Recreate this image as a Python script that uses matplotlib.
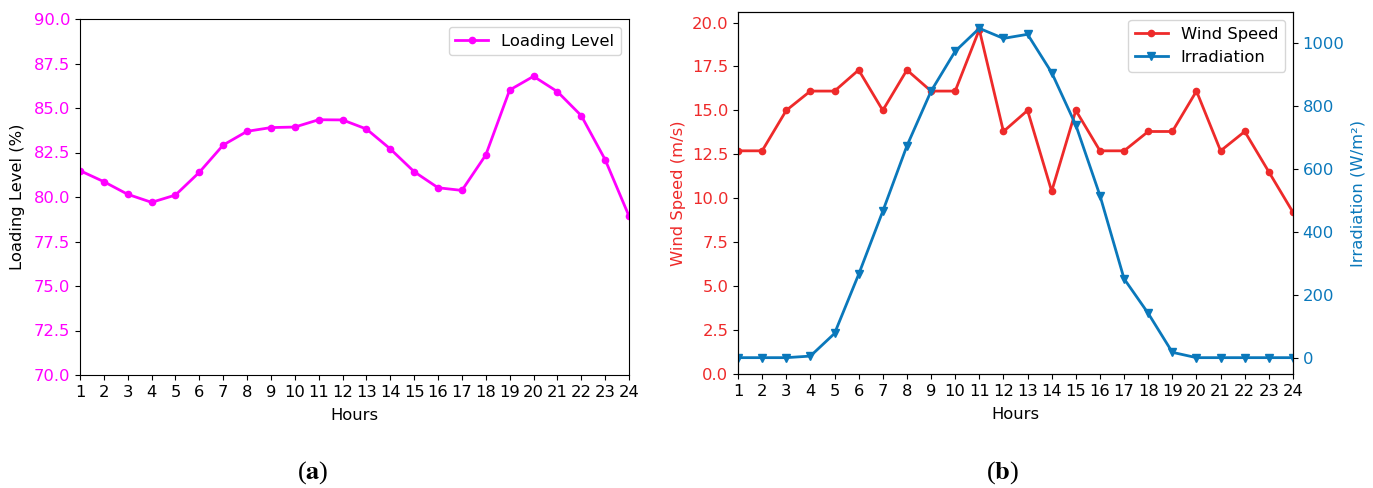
import matplotlib
matplotlib.use("Agg")
import matplotlib.pyplot as plt

hours = list(range(1, 25))
loading_level = [81.48, 80.86, 80.15, 79.70, 80.11, 81.39, 82.92, 83.69, 83.90, 83.93,
                 84.34, 84.33, 83.82, 82.70, 81.42, 80.52, 80.37, 82.36, 86.01, 86.78,
                 85.92, 84.57, 82.10, 78.93]
wind_speed = [12.7, 12.7, 15.0, 16.1, 16.1, 17.3, 15.0, 17.3, 16.1, 16.1,
              19.6, 13.8, 15.0, 10.4, 15.0, 12.7, 12.7, 13.8, 13.8, 16.1,
              12.7, 13.8, 11.5, 9.2]
irradiation = [0, 0, 0, 5, 77, 265, 466, 674, 848, 975,
               1048, 1016, 1029, 907, 740, 516, 251, 141, 17, 0,
               0, 0, 0, 0]
load_ticks = [70.0, 72.5, 75.0, 77.5, 80.0, 82.5, 85.0, 87.5, 90.0]
wind_ticks = [0.0, 2.5, 5.0, 7.5, 10.0, 12.5, 15.0, 17.5, 20.0]
irr_ticks = [0, 200, 400, 600, 800, 1000]

MAGENTA = "#ff00ff"
RED = "#ee2a2a"
BLUE = "#0a78bb"
FS = 11.8

W, H = 1373, 488
fig = plt.figure(figsize=(W / 100, H / 100), dpi=100)

def rect(x0, y0, x1, y1):
    return [x0 / W, 1 - y1 / H, (x1 - x0) / W, (y1 - y0) / H]

# (a)
ax1 = fig.add_axes(rect(80, 19, 629, 375))
ax1.plot(hours, loading_level, color=MAGENTA, marker="o", markersize=4.5, linewidth=2,
         label="Loading Level")
ax1.set_xlim(1, 24)
ax1.set_ylim(70, 90)
ax1.set_xticks(hours)
ax1.set_yticks(load_ticks)
ax1.set_yticklabels([f"{t:.1f}" for t in load_ticks])
ax1.tick_params(axis="y", labelcolor=MAGENTA, labelsize=FS)
ax1.tick_params(axis="x", labelsize=FS)
ax1.set_xlabel("Hours", fontsize=FS, labelpad=6)
ax1.set_ylabel("Loading Level (%)", fontsize=FS, labelpad=6)
ax1.legend(loc="upper right", fontsize=FS)

# (b)
ax2 = fig.add_axes(rect(738, 12, 1293, 374))
l1, = ax2.plot(hours, wind_speed, color=RED, marker="o", markersize=4.5, linewidth=2,
               label="Wind Speed")
ax2.set_xlim(1, 24)
ax2.set_ylim(0, 20.6)
ax2.set_xticks(hours)
ax2.set_yticks(wind_ticks)
ax2.set_yticklabels([f"{t:.1f}" for t in wind_ticks])
ax2.tick_params(axis="y", labelcolor=RED, labelsize=FS)
ax2.tick_params(axis="x", labelsize=FS)
ax2.set_xlabel("Hours", fontsize=FS, labelpad=6)
ax2.set_ylabel("Wind Speed (m/s)", color=RED, fontsize=FS)

ax3 = ax2.twinx()
l2, = ax3.plot(hours, irradiation, color=BLUE, marker="v", markersize=6, linewidth=2,
               label="Irradiation")
ax3.set_ylim(-52, 1100)
ax3.set_yticks(irr_ticks)
ax3.tick_params(axis="y", labelcolor=BLUE, labelsize=FS)
ax3.set_ylabel("Irradiation (W/m²)", color=BLUE, fontsize=FS)
ax3.legend(handles=[l1, l2], loc="upper right", fontsize=FS)

for xc, letter in [(313, "a"), (1003, "b")]:
    fig.text(xc / W, 1 - 473 / H, "(" + r"$\mathbf{" + letter + "}$" + ")",
             fontsize=19, ha="center", va="center", family="Liberation Serif",
             math_fontfamily="stix")

fig.savefig("out.png", dpi=100)
